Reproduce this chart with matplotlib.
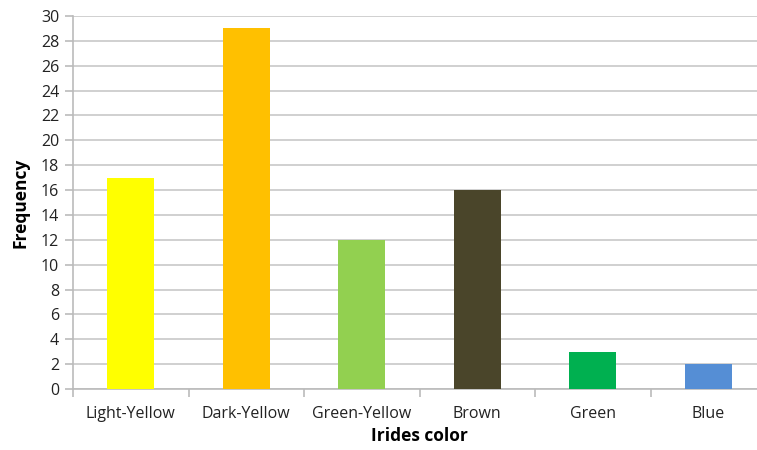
import matplotlib.pyplot as plt

categories = ["Light-Yellow", "Dark-Yellow", "Green-Yellow", "Brown", "Green", "Blue"]
frequency = [17, 29, 12, 16, 3, 2]
bar_colors = ["#FFFF00", "#FFC000", "#92D050", "#4A452A", "#00B050", "#558ED5"]

plt.rcParams['font.family'] = ['Open Sans', 'DejaVu Sans']

fig = plt.figure(figsize=(7.57, 4.5), dpi=100)
# plot area runs past the right edge, as in the cropped original
ax = fig.add_axes([73 / 757, 61 / 450, 693 / 757, 373 / 450])

x = range(len(categories))
ax.bar(x, frequency, width=0.41, color=bar_colors, zorder=3)

ax.set_xlim(-0.5, len(categories) - 0.5)
ax.set_ylim(0, 30)
ax.set_yticks(range(0, 31, 2))
ax.grid(axis="y", color="#C8C8C8", linewidth=1.2, zorder=0)

# category labels centred, tick marks between categories
ax.set_xticks(list(x))
ax.set_xticklabels(categories, fontsize=11.5, color="#222222")
ax.tick_params(axis="x", length=0, pad=12)
ax.set_xticks([i + 0.5 for i in range(-1, len(categories))], minor=True)
ax.tick_params(axis="x", which="minor", length=6, color="#BBBBBB", width=1.2)
ax.tick_params(axis="y", length=6, color="#BBBBBB", width=1.2, labelsize=11.5,
               labelcolor="#222222", pad=4)

for side in ["top", "right"]:
    ax.spines[side].set_visible(False)
for side in ["left", "bottom"]:
    ax.spines[side].set_color("#BBBBBB")
    ax.spines[side].set_linewidth(1.2)

ax.set_ylabel("Frequency", fontsize=12.5, fontweight="bold", labelpad=8)
ax.set_xlabel("Irides color", fontsize=12.5, fontweight="bold", labelpad=4)

fig.savefig("out.png", dpi=100)
